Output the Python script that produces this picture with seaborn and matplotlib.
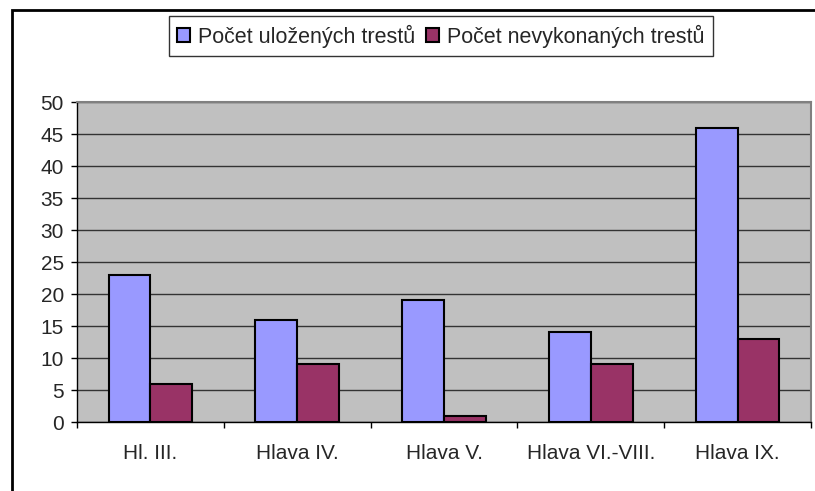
import pandas as pd
import numpy as np
import matplotlib
matplotlib.use('Agg')
import matplotlib.pyplot as plt
from matplotlib.patches import Rectangle
import seaborn as sns

# Data
categories = ['Hl. III.', 'Hlava IV.', 'Hlava V.', 'Hlava VI.-VIII.', 'Hlava IX.']
ulozenych = [23, 16, 19, 14, 46]
nevykonanych = [6, 9, 1, 9, 13]
series_names = ['Počet uložených trestů', 'Počet nevykonaných trestů']
colors = ['#9999FF', '#993366']

df = pd.DataFrame({
    'Hlava': categories * 2,
    'Počet': ulozenych + nevykonanych,
    'Série': [series_names[0]] * len(categories) + [series_names[1]] * len(categories),
})

sns.set_theme(style='white')
plt.rcParams['font.family'] = ['Liberation Sans', 'DejaVu Sans']
plt.rcParams['font.size'] = 15

fig = plt.figure(figsize=(8.15, 4.91), dpi=100)
ax = fig.add_axes([77 / 815, 1 - 422 / 491, 734 / 815, 320 / 491])

sns.barplot(data=df, x='Hlava', y='Počet', hue='Série', order=categories,
            hue_order=series_names, palette=colors, width=0.57, saturation=1,
            edgecolor='black', linewidth=1.5, ax=ax, legend=False, zorder=3)

ax.set_facecolor('#C0C0C0')
ax.set_ylim(0, 50)
ax.set_xlim(-0.5, len(categories) - 0.5)
ax.set_yticks(np.arange(0, 51, 5))
ax.yaxis.grid(True, color='#333333', linewidth=1)
ax.set_axisbelow(True)
ax.set_xlabel('')
ax.set_ylabel('')

for side in ['left', 'bottom']:
    ax.spines[side].set_color('black')
    ax.spines[side].set_linewidth(1)
for side in ['top', 'right']:
    ax.spines[side].set_color('#808080')
    ax.spines[side].set_linewidth(1.5)

ax.tick_params(axis='y', left=True, length=4.5, width=1, color='black', pad=5, labelsize=15)
ax.tick_params(axis='x', bottom=False, pad=10, labelsize=15)
ax.set_xticks(np.arange(-0.5, len(categories), 1), minor=True)
ax.tick_params(axis='x', which='minor', bottom=True, length=4.5, width=1, color='black')

handles = [Rectangle((0, 0), 1, 1, facecolor=c, edgecolor='black', linewidth=1.5) for c in colors]
leg = fig.legend(handles, series_names, loc='center', bbox_to_anchor=(441 / 815, 1 - 36 / 491),
                 ncol=2, frameon=True, fancybox=False, shadow=False, fontsize=15.5,
                 handlelength=0.6, handleheight=0.6, handletextpad=0.37, columnspacing=0.5,
                 borderpad=0.4)
leg.get_frame().set_edgecolor('black')
leg.get_frame().set_linewidth(1)

# outer chart border (cut off on right and bottom as in the reference)
fig.patches.append(Rectangle((12 / 815, -0.1), 1.0, 1 - 10 / 491 + 0.1, transform=fig.transFigure,
                             fill=False, edgecolor='black', linewidth=2))

fig.savefig('out.png', dpi=100)
